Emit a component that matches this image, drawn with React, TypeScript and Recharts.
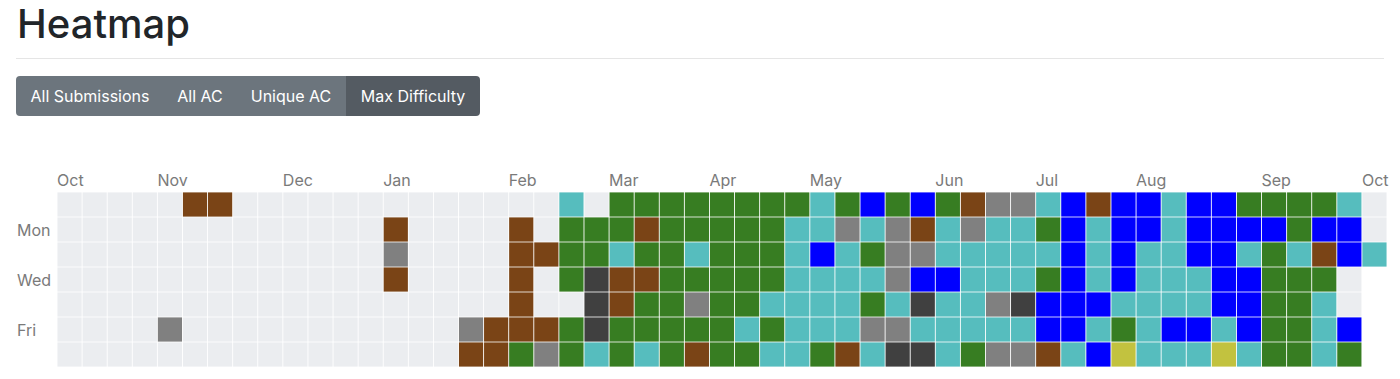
import { ScatterChart, Scatter, XAxis, YAxis } from "recharts";

const monthLabels = ["Oct", "Nov", "Dec", "Jan", "Feb", "Mar", "Apr", "May", "Jun", "Jul", "Aug", "Sep", "Oct"];
const monthCols = [0, 4, 9, 13, 18, 22, 26, 30, 35, 39, 43, 48, 52];
const dayLabels = ["Mon", "Wed", "Fri"];
const dayTicks = [1, 3, 5];

// one string per weekday (Sun..Sat), one char per week
// . none  d dark gray  g gray  b brown  G green  c cyan  B blue  y yellow  (space = future)
const weekRows = [
  ".....bb.............c.GGGGGGGGcGBGBGbggcBbBBcBBGGGGc.",
  ".............b....b.GGGbGGGGGccgcgbcgccGBcBBcBBBBGBB.",
  ".............g....bbGGcGGcGGGcBcGggcccccBcBccBBcGcbBc",
  ".............b....b.GdbbGGGGGccccgBBcccGBcBcccBBGGG. ",
  "..................b..dbGGgGGccccGcdccgdBBBccccBBGGc. ",
  "....g...........gbbbGdGGGGGcGcccggcccccBBcGcBBcBGGcB ",
  "................bbGgGcGcGbGGccGbcddcGggbcBycccycGGcG ",
];

const levelColors: Record<string, string> = {
  ".": "#ebedf0",
  d: "#404040",
  g: "#808080",
  b: "#7a4416",
  G: "#377d22",
  c: "#56bdbe",
  B: "#0000ff",
  y: "#c2c23f",
};

const buttons = ["All Submissions", "All AC", "Unique AC", "Max Difficulty"];
const activeButton = 3;

const cells = weekRows.flatMap((row, day) =>
  row
    .split("")
    .map((level, week) => ({ week, day, level }))
    .filter((c) => c.level !== " ")
);

const FONT = "Inter, 'Noto Sans', sans-serif";
const CELL = 24.2;

const MonthTick = (props: any) => {
  const { x, payload } = props;
  const i = monthCols.indexOf(Math.round(payload.value + 0.5));
  return (
    <text x={x} y={186} textAnchor="start" fontSize={16} fill="#7a7a7a" fontFamily={FONT}>
      {monthLabels[i]}
    </text>
  );
};

const DayTick = (props: any) => {
  const { y, payload } = props;
  const i = dayTicks.indexOf(payload.value);
  return (
    <text x={17} y={y + 6} textAnchor="start" fontSize={16} fill="#7a7a7a" fontFamily={FONT}>
      {dayLabels[i]}
    </text>
  );
};

const CellShape = (props: any) => {
  const { cx, cy, payload } = props;
  return (
    <rect
      x={cx - CELL / 2}
      y={cy - CELL / 2}
      width={CELL}
      height={CELL}
      fill={levelColors[payload.level]}
    />
  );
};

const btnWidths = [148, 72, 110, 134];

export default function App() {
  return (
    <div style={{ position: "absolute", left: 0, top: 0, width: 1400, height: 379, fontFamily: FONT, background: "#fff" }}>
      <ScatterChart width={1400} height={379} margin={{ top: 162, right: 13, bottom: 12, left: 17 }}>
        <XAxis
          type="number"
          dataKey="week"
          orientation="top"
          height={30}
          domain={[-0.5, 52.5]}
          ticks={monthCols.map((c) => c - 0.5)}
          interval={0}
          axisLine={false}
          tickLine={false}
          tick={<MonthTick />}
        />
        <YAxis
          type="number"
          dataKey="day"
          width={40}
          reversed
          domain={[-0.5, 6.5]}
          ticks={dayTicks}
          interval={0}
          axisLine={false}
          tickLine={false}
          tick={<DayTick />}
        />
        <Scatter data={cells} shape={<CellShape />} isAnimationActive={false} />
      </ScatterChart>

      <div
        style={{
          position: "absolute",
          left: 17,
          top: 4,
          fontSize: 40,
          lineHeight: "40px",
          fontWeight: 500,
          color: "#212529",
        }}
      >
        Heatmap
      </div>
      <div style={{ position: "absolute", left: 16, top: 58, width: 1368, height: 1, background: "#e5e5e5" }} />
      <div style={{ position: "absolute", left: 16, top: 76, height: 40, display: "flex", borderRadius: 4, overflow: "hidden" }}>
        {buttons.map((b, i) => (
          <div
            key={b}
            style={{
              width: btnWidths[i],
              height: 40,
              display: "flex",
              alignItems: "center",
              justifyContent: "center",
              background: i === activeButton ? "#545b62" : "#6c757d",
              color: "#fff",
              fontSize: 16,
            }}
          >
            {b}
          </div>
        ))}
      </div>
    </div>
  );
}
